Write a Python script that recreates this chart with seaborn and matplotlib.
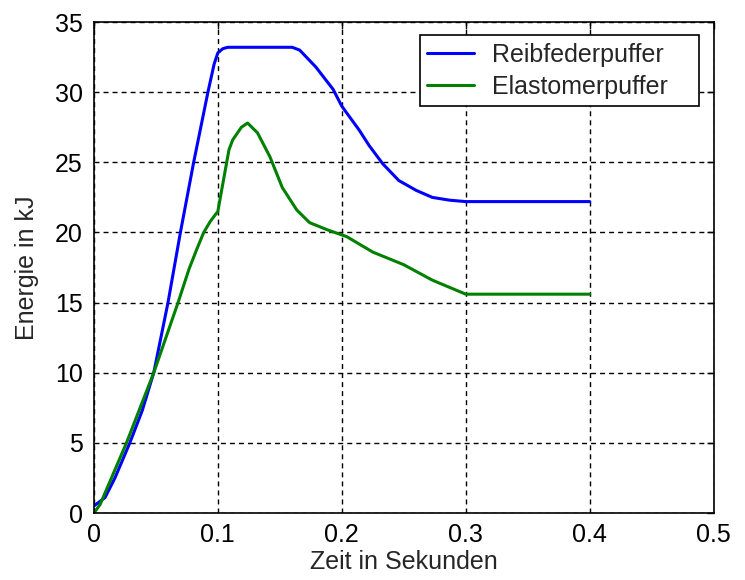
import numpy as np
import pandas as pd
import matplotlib
matplotlib.use("Agg")
import matplotlib.pyplot as plt
import seaborn as sns

# Energy absorbed over time for two buffer types
t_reib = [0.0, 0.009, 0.017, 0.029, 0.039, 0.0483, 0.0598, 0.0698, 0.0805, 0.092,
          0.097, 0.1, 0.104, 0.108, 0.16, 0.166, 0.179, 0.193, 0.2, 0.214, 0.222,
          0.233, 0.246, 0.26, 0.273, 0.287, 0.3, 0.4]
e_reib = [0.5, 1.1, 2.5, 5.0, 7.3, 10.0, 15.0, 20.0, 25.0, 30.0,
          32.0, 32.8, 33.1, 33.2, 33.2, 33.0, 31.8, 30.2, 29.0, 27.3, 26.2,
          24.9, 23.7, 23.0, 22.5, 22.3, 22.2, 22.2]

t_elast = [0.0, 0.005, 0.0142, 0.0263, 0.0483, 0.0679, 0.0768, 0.083, 0.0886, 0.094,
           0.1, 0.1055, 0.109, 0.112, 0.119, 0.124, 0.132, 0.142, 0.152, 0.1637,
           0.174, 0.188, 0.204, 0.225, 0.25, 0.273, 0.3, 0.4]
e_elast = [0.0, 0.6, 2.5, 5.0, 10.0, 15.0, 17.4, 18.8, 20.0, 20.8,
           21.5, 24.2, 25.9, 26.6, 27.5, 27.8, 27.1, 25.4, 23.2, 21.6,
           20.7, 20.2, 19.7, 18.6, 17.7, 16.6, 15.6, 15.6]

series_names = ["Reibfederpuffer", "Elastomerpuffer"]
x_ticks = [0, 0.1, 0.2, 0.3, 0.4, 0.5]
x_tick_labels = ["0", "0.1", "0.2", "0.3", "0.4", "0.5"]
y_ticks = [0, 5, 10, 15, 20, 25, 30, 35]

df = pd.concat([
    pd.DataFrame({"t": t_reib, "E": e_reib, "Puffer": series_names[0]}),
    pd.DataFrame({"t": t_elast, "E": e_elast, "Puffer": series_names[1]}),
])

sns.set_style("white")
plt.rcParams["font.family"] = ["Liberation Sans", "DejaVu Sans"]

fig = plt.figure(figsize=(7.45, 5.8), dpi=100)
ax = fig.add_axes([0.126, 0.1155, 0.832, 0.8465])

sns.lineplot(data=df, x="t", y="E", hue="Puffer", sort=False,
             palette={series_names[0]: "#0000ff", series_names[1]: "#008000"},
             linewidth=2.2, ax=ax, estimator=None)

ax.set_xlim(0, 0.5)
ax.set_ylim(0, 35)
ax.set_xticks(x_ticks)
ax.set_xticklabels(x_tick_labels)
ax.set_yticks(y_ticks)
ax.tick_params(direction="in", length=5, width=1.0, colors="black",
               labelsize=18, top=True, right=True)
ax.tick_params(axis="x", pad=7)
ax.tick_params(axis="y", pad=8)
for s in ax.spines.values():
    s.set_color("black")
    s.set_linewidth(1.2)
ax.grid(True, color="black", linestyle=(0, (3.6, 2.9)), linewidth=1.0)
ax.set_axisbelow(True)

ax.set_xlabel("Zeit in Sekunden", fontsize=18, labelpad=2)
ax.set_ylabel("Energie in kJ", fontsize=18, labelpad=11)

# Legend box spans a fixed width in the upper right corner
leg = ax.legend(loc="upper left", bbox_to_anchor=(0.526, 0.5, 0.45, 0.4735),
                mode="expand", borderaxespad=0.0,
                fontsize=18, frameon=True, fancybox=False,
                edgecolor="black", framealpha=1, handlelength=1.85,
                handletextpad=0.72, borderpad=0.3, labelspacing=0.32)
leg.get_frame().set_linewidth(1.2)

fig.savefig("out.png", dpi=100)
